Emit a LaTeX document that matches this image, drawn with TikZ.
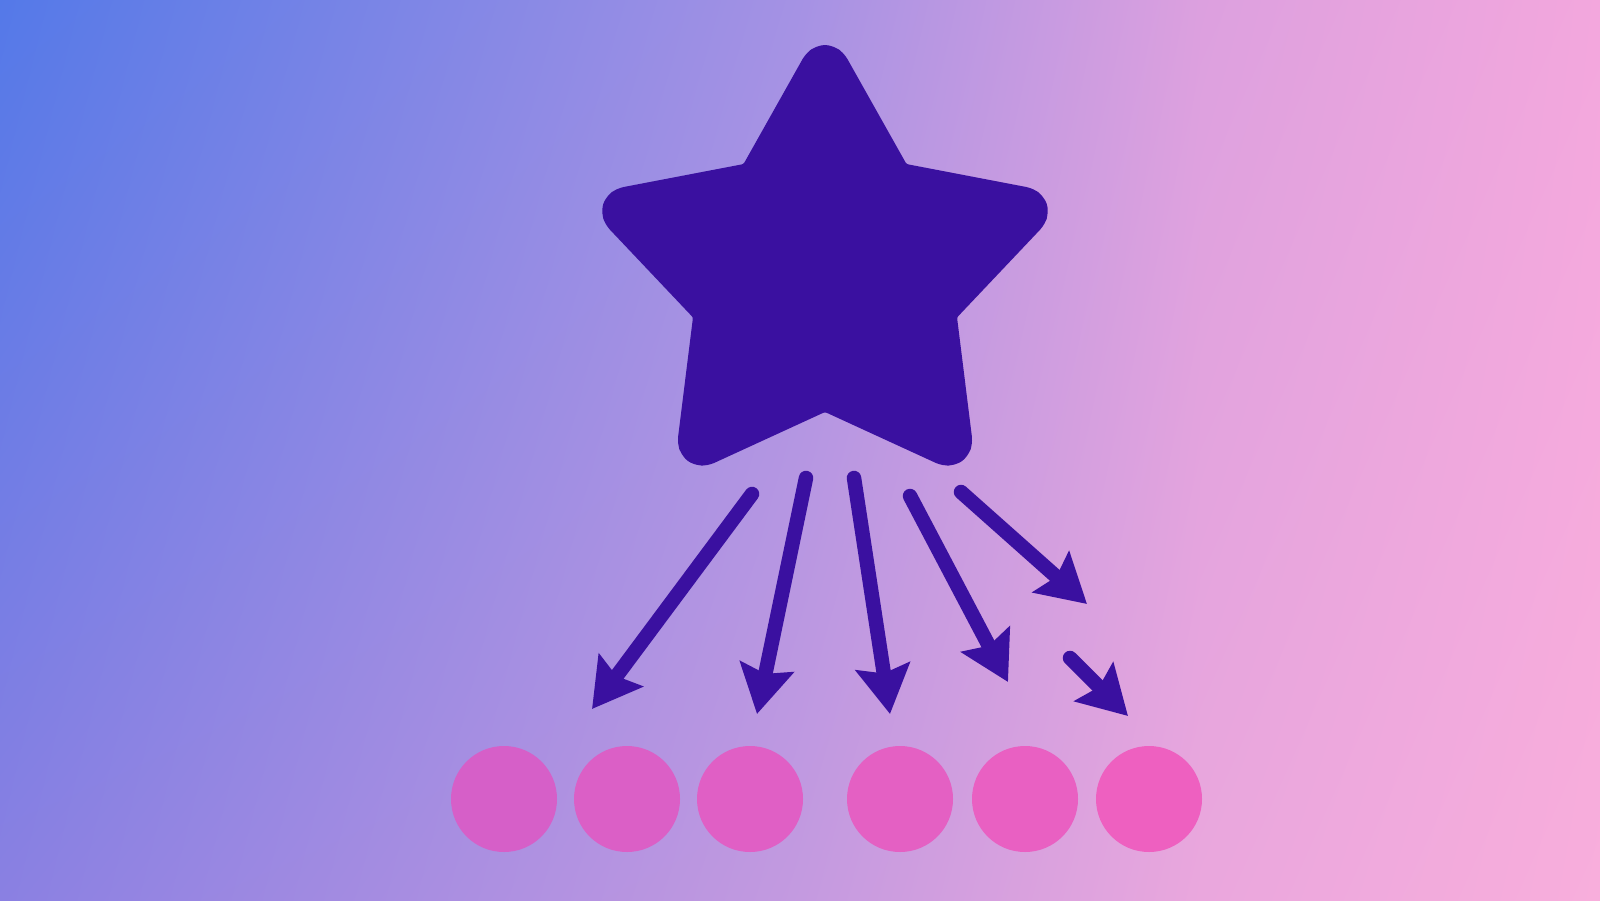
\documentclass[tikz,border=0pt]{standalone}
\usepackage{tikz}
\usetikzlibrary{arrows.meta,shadings}
\definecolor{bgTL}{HTML}{5479E8}
\definecolor{bgBL}{HTML}{8A80E2}
\definecolor{bgTM}{HTML}{A592E4}
\definecolor{bgBM}{HTML}{C49AE0}
\definecolor{bgTP}{HTML}{DCA0DF}
\definecolor{bgBP}{HTML}{EAA7DD}
\definecolor{bgTR}{HTML}{F3A7DD}
\definecolor{bgBR}{HTML}{F8AEDC}
\definecolor{starInk}{HTML}{3A10A0}
\definecolor{dotL}{HTML}{D65FC8}
\definecolor{dotR}{HTML}{EE60C0}
\def\backbox{(0,0) rectangle (16,9)}
\def\leftbox{(0,0) rectangle (8.01,9)}
\def\midbox{(8,0) rectangle (12.01,9)}
\def\rightbox{(12,0) rectangle (16,9)}
\def\starOut{2.15}
\def\starIn{1.15}
\tikzset{
  spray/.style={starInk, line width=1.45mm, line cap=round,
    -{Stealth[length=4.8mm,width=5.4mm,inset=0.7mm]}},
  dot/.style={circle, inner sep=0pt, minimum size=10.6mm}
}

\begin{document}
\begin{tikzpicture}
  \useasboundingbox \backbox;
  \shade[upper left=bgTL, upper right=bgTM, lower left=bgBL, lower right=bgBM] \leftbox;
  \shade[upper left=bgTM, upper right=bgTP, lower left=bgBM, lower right=bgBP] \midbox;
  \shade[upper left=bgTP, upper right=bgTR, lower left=bgBP, lower right=bgBR] \rightbox;
  % star, rounded tips come from the thick round join
  \begin{scope}[shift={(8.25,6.25)}, xscale=1.015]
    \filldraw[starInk, line width=4mm, line join=round, rounded corners=1mm] (90:\starOut)
      \foreach \k in {0,...,3}{ -- (126+72*\k:\starIn) -- (162+72*\k:\starOut)} -- (54:\starIn) -- cycle;
  \end{scope}
  % arrow ends
  \coordinate (t1) at (7.52,4.06);  \coordinate (h1) at (5.92,1.91);
  \coordinate (t2) at (8.06,4.22);  \coordinate (h2) at (7.57,1.86);
  \coordinate (t3) at (8.54,4.22);  \coordinate (h3) at (8.90,1.86);
  \coordinate (t4) at (9.10,4.04);  \coordinate (h4) at (10.08,2.18);
  \coordinate (t5) at (9.61,4.08);  \coordinate (h5) at (10.87,2.96);
  \coordinate (t6) at (10.70,2.42); \coordinate (h6) at (11.28,1.84);
  \foreach \i in {1,...,6} \draw[spray] (t\i) -- (h\i);
  % dots
  \foreach \x/\p [count=\i] in {5.04/0,6.27/20,7.50/40,9.00/60,10.25/80,11.49/100}
    \node[dot, fill=dotR!\p!dotL] (c\i) at (\x,1.01) {};
\end{tikzpicture}
\end{document}
